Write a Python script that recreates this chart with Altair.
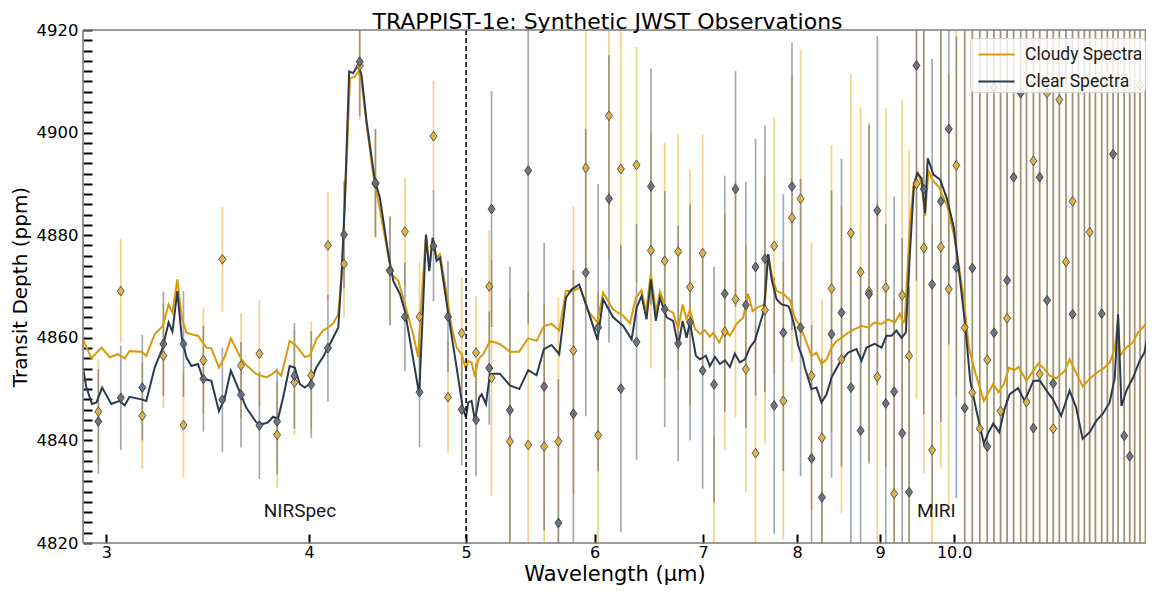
import altair as alt
import pandas as pd

# ---------------- data ----------------
cloudy_wl = [2.902, 2.937, 2.979, 3.015, 3.050, 3.079, 3.100, 3.153, 3.175, 3.213,
             3.250, 3.277, 3.295, 3.318, 3.339, 3.361, 3.393, 3.417, 3.457, 3.482,
             3.520, 3.549, 3.580, 3.608, 3.634, 3.659, 3.712, 3.765, 3.792, 3.819,
             3.846, 3.892, 3.929, 3.976, 4.004, 4.042, 4.081, 4.110, 4.140, 4.170,
             4.190, 4.215, 4.240, 4.270, 4.290, 4.310, 4.341, 4.382, 4.414, 4.456,
             4.498, 4.541, 4.584, 4.638, 4.671, 4.694, 4.723, 4.745, 4.768, 4.795,
             4.818, 4.864, 4.899, 4.933, 4.968, 4.999, 5.015, 5.039, 5.063, 5.087,
             5.123, 5.172, 5.245, 5.321, 5.392, 5.461, 5.526, 5.584, 5.645, 5.707,
             5.761, 5.821, 5.877, 5.947, 6.023, 6.074, 6.161, 6.250, 6.310, 6.363,
             6.415, 6.454, 6.500, 6.546, 6.584, 6.647, 6.709, 6.757, 6.800, 6.838,
             6.871, 6.920, 6.969, 7.018, 7.068, 7.102, 7.163, 7.221, 7.272, 7.341,
             7.410, 7.463, 7.510, 7.569, 7.642, 7.678, 7.716, 7.770, 7.844, 7.919,
             7.975, 8.031, 8.088, 8.165, 8.223, 8.282, 8.342, 8.401, 8.461, 8.521,
             8.602, 8.683, 8.766, 8.849, 8.933, 9.019, 9.104, 9.191, 9.257, 9.301,
             9.322, 9.389, 9.443, 9.501, 9.548, 9.594, 9.640, 9.710, 9.780, 9.900,
             9.995, 10.07, 10.14, 10.21, 10.31, 10.43, 10.50, 10.57, 10.65, 10.73,
             10.81, 10.89, 10.96, 11.08, 11.19, 11.27, 11.37, 11.45, 11.56, 11.70,
             11.78, 11.89, 12.00, 12.12, 12.24, 12.35, 12.47, 12.56, 12.62, 12.65,
             12.77, 12.89, 12.98, 13.07, 13.17]
cloudy_depth = [4859.7, 4856.0, 4858.1, 4856.2, 4856.8, 4856.0, 4857.4, 4857.3, 4856.5, 4860.7,
                4862.3, 4866.5, 4864.9, 4871.4, 4863.9, 4861.0, 4860.6, 4860.4, 4858.1, 4858.0,
                4854.2, 4856.3, 4859.9, 4857.8, 4855.8, 4854.7, 4852.9, 4852.3, 4852.8, 4853.6,
                4852.6, 4859.4, 4858.4, 4856.3, 4856.5, 4859.7, 4861.4, 4862.0, 4862.8, 4864.6,
                4872.4, 4890.5, 4910.6, 4910.9, 4911.9, 4910.0, 4901.5, 4891.8, 4886.6, 4879.5,
                4872.4, 4871.1, 4866.5, 4860.7, 4856.2, 4867.8, 4880.1, 4873.6, 4879.5, 4875.6,
                4876.3, 4868.5, 4862.0, 4858.1, 4856.8, 4853.9, 4855.5, 4855.2, 4852.4, 4855.8,
                4856.8, 4859.4, 4858.8, 4857.3, 4857.3, 4859.9, 4859.4, 4862.3, 4862.7, 4861.4,
                4869.1, 4869.1, 4869.8, 4865.2, 4863.0, 4868.8, 4865.5, 4864.3, 4862.8, 4867.8,
                4869.3, 4864.9, 4872.5, 4864.9, 4869.0, 4865.5, 4864.9, 4861.7, 4866.5, 4863.6,
                4865.5, 4861.7, 4860.8, 4861.5, 4860.2, 4861.0, 4859.1, 4861.5, 4860.4, 4862.7,
                4863.9, 4868.6, 4865.2, 4866.0, 4866.5, 4876.3, 4872.4, 4869.1, 4868.6, 4867.3,
                4863.9, 4862.3, 4860.0, 4856.5, 4857.1, 4854.9, 4855.8, 4858.1, 4859.4, 4860.0,
                4861.0, 4861.7, 4862.3, 4862.0, 4863.0, 4862.7, 4863.6, 4863.0, 4864.7, 4863.0,
                4863.3, 4882.1, 4890.2, 4892.1, 4889.9, 4883.7, 4892.5, 4890.5, 4889.5, 4885.7,
                4880.1, 4873.6, 4867.2, 4858.1, 4852.9, 4847.7, 4849.4, 4851.0, 4849.4, 4851.0,
                4854.2, 4853.7, 4854.3, 4851.6, 4853.6, 4855.0, 4853.9, 4852.6, 4852.1, 4853.6,
                4855.8, 4853.2, 4850.5, 4852.0, 4853.2, 4853.9, 4855.2, 4857.8, 4864.0, 4856.5,
                4858.1, 4859.1, 4861.0, 4862.0, 4863.3]

clear_wl = [2.902, 2.915, 2.939, 2.958, 2.982, 3.021, 3.057, 3.079, 3.100, 3.153,
            3.175, 3.213, 3.250, 3.277, 3.295, 3.318, 3.339, 3.361, 3.385, 3.417,
            3.441, 3.482, 3.520, 3.549, 3.580, 3.608, 3.634, 3.659, 3.712, 3.747,
            3.774, 3.801, 3.828, 3.856, 3.892, 3.920, 3.948, 3.976, 4.004, 4.042,
            4.081, 4.111, 4.170, 4.190, 4.209, 4.235, 4.259, 4.290, 4.310, 4.341,
            4.393, 4.424, 4.477, 4.509, 4.552, 4.584, 4.678, 4.705, 4.723, 4.745,
            4.768, 4.795, 4.818, 4.875, 4.933, 4.976, 4.999, 5.015, 5.039, 5.063,
            5.094, 5.112, 5.143, 5.172, 5.197, 5.245, 5.321, 5.392, 5.461, 5.526,
            5.584, 5.645, 5.707, 5.761, 5.807, 5.871, 5.947, 6.026, 6.074, 6.161,
            6.250, 6.325, 6.370, 6.415, 6.460, 6.500, 6.546, 6.584, 6.647, 6.709,
            6.757, 6.800, 6.838, 6.871, 6.929, 6.969, 7.028, 7.068, 7.119, 7.170,
            7.221, 7.272, 7.323, 7.376, 7.428, 7.481, 7.534, 7.588, 7.631, 7.678,
            7.716, 7.770, 7.826, 7.900, 7.919, 7.975, 8.012, 8.065, 8.088, 8.165,
            8.223, 8.282, 8.342, 8.401, 8.500, 8.602, 8.704, 8.766, 8.828, 8.933,
            9.019, 9.083, 9.148, 9.213, 9.279, 9.335, 9.389, 9.443, 9.487, 9.546,
            9.594, 9.631, 9.710, 9.803, 9.900, 9.995, 10.08, 10.16, 10.23, 10.32,
            10.43, 10.50, 10.57, 10.66, 10.74, 10.82, 10.95, 11.05, 11.19, 11.29,
            11.40, 11.50, 11.64, 11.78, 11.89, 12.00, 12.12, 12.24, 12.35, 12.47,
            12.56, 12.62, 12.68, 12.77, 12.89, 13.01, 13.10, 13.20]
clear_depth = [4854.2, 4850.5, 4847.1, 4847.4, 4850.3, 4847.1, 4847.7, 4846.8, 4848.5, 4848.0,
               4847.7, 4854.2, 4858.1, 4863.0, 4861.2, 4869.1, 4860.0, 4856.2, 4854.5, 4854.9,
               4852.0, 4851.6, 4845.7, 4848.3, 4853.6, 4851.0, 4848.7, 4846.4, 4843.5, 4843.2,
               4843.5, 4844.6, 4844.2, 4848.4, 4854.5, 4854.2, 4851.0, 4850.3, 4851.0, 4854.2,
               4856.3, 4858.1, 4862.0, 4872.4, 4886.6, 4911.9, 4911.6, 4913.2, 4911.2, 4902.2,
               4890.5, 4887.3, 4876.3, 4871.1, 4868.5, 4865.2, 4849.0, 4867.2, 4880.1, 4873.0,
               4879.5, 4875.0, 4875.6, 4864.6, 4854.2, 4846.4, 4844.5, 4847.4, 4847.7, 4843.9,
               4848.4, 4849.0, 4847.1, 4852.9, 4853.0, 4853.0, 4850.7, 4850.0, 4853.7, 4852.7,
               4857.8, 4858.6, 4856.8, 4867.8, 4869.4, 4870.4, 4865.2, 4859.6, 4867.5, 4864.0,
               4862.3, 4859.7, 4865.9, 4868.2, 4863.6, 4871.4, 4863.3, 4867.8, 4864.0, 4863.3,
               4858.4, 4863.3, 4860.0, 4863.0, 4856.5, 4855.8, 4856.5, 4854.5, 4856.3, 4854.9,
               4855.6, 4854.3, 4856.9, 4855.2, 4855.8, 4858.1, 4859.4, 4862.7, 4865.2, 4876.3,
               4871.4, 4867.5, 4866.5, 4866.2, 4865.5, 4862.0, 4858.5, 4856.0, 4854.2, 4850.0,
               4850.3, 4847.4, 4849.0, 4852.3, 4855.2, 4857.1, 4857.8, 4855.5, 4858.1, 4858.8,
               4858.1, 4860.4, 4860.4, 4861.4, 4860.0, 4861.0, 4876.3, 4889.5, 4892.1, 4891.1,
               4884.3, 4895.0, 4891.8, 4890.8, 4887.0, 4881.4, 4871.7, 4862.0, 4851.6, 4845.8,
               4839.4, 4841.6, 4843.3, 4841.6, 4846.1, 4849.0, 4850.2, 4847.7, 4851.6, 4851.7,
               4849.7, 4848.1, 4844.8, 4849.7, 4846.4, 4840.3, 4841.6, 4843.9, 4845.2, 4847.4,
               4852.2, 4864.6, 4846.7, 4849.7, 4852.2, 4855.5, 4857.1, 4862.7]

# NIRSpec synthetic observations
nir_wl = [2.966, 3.062, 3.157, 3.253, 3.347, 3.443, 3.537, 3.632, 3.728, 3.823, 3.918, 4.013,
          4.109, 4.204, 4.299, 4.396, 4.488, 4.584, 4.680, 4.774, 4.873, 4.969, 5.071, 5.167]
nir_cloudy = [4845.6, 4869.1, 4844.8, 4856.5, 4843.0, 4855.6, 4875.3, 4854.6, 4856.9, 4841.1, 4851.3, 4852.7,
              4878.0, 4874.4, 4913.0, 4890.0, 4873.2, 4880.7, 4864.1, 4899.3, 4848.4, 4860.9, 4857.1, 4870.0]
nir_clear = [4843.7, 4848.3, 4850.3, 4858.8, 4858.8, 4852.0, 4847.9, 4848.9, 4842.9, 4843.7, 4852.6, 4850.9,
             4858.0, 4880.1, 4913.8, 4890.2, 4873.0, 4864.1, 4849.4, 4877.9, 4864.1, 4846.0, 4844.0, 4854.1]
nir_err = [10.2, 10.2, 10.3, 10.2, 10.3, 10.3, 10.2, 10.3, 10.4, 10.3, 10.3, 10.4,
           10.4, 10.5, 10.5, 10.5, 10.6, 10.6, 10.7, 10.8, 10.8, 10.9, 11.0, 11.0]

# MIRI synthetic observations (None = point not visible in the plotted range)
miri_wl = [5.184, 5.321, 5.461, 5.586, 5.700, 5.823, 5.926, 6.031, 6.124, 6.229,
           6.369, 6.501, 6.629, 6.757, 6.872, 6.996, 7.110, 7.219, 7.330, 7.439,
           7.542, 7.643, 7.744, 7.845, 7.942, 8.040, 8.166, 8.287, 8.401, 8.521,
           8.635, 8.755, 8.860, 8.966, 9.074, 9.182, 9.287, 9.379, 9.478, 9.577,
           9.691, 9.812, 9.923, 10.03, 10.15, 10.26, 10.37, 10.48, 10.58, 10.68,
           10.78, 10.88, 10.99, 11.08, 11.19, 11.29, 11.41, 11.51, 11.61, 11.72,
           11.83, 11.93, 12.03, 12.12, 12.22, 12.33, 12.43, 12.53, 12.62, 12.73,
           12.83, 12.92, 13.02, 13.12]
miri_cloudy = [4852.2, 4839.8, 4839.1, 4838.8, 4839.8, 4857.5, 4893.1, 4841.0, 4903.3, 4892.9,
               4893.7, 4877.0, 4875.0, 4876.8, 4869.9, 4876.5, 4818.0, 4861.2, 4867.5, 4853.9,
               4837.5, 4865.4, 4877.9, 4847.7, 4883.4, 4887.1, 4852.6, 4840.5, 4869.6, 4855.8,
               4880.4, 4872.8, 4869.0, 4852.4, 4869.8, 4829.6, 4868.3, 4856.5, 4890.0, 4877.5,
               4838.1, 4877.7, 4869.5, 4893.6, 4862.0, 4849.3, 4842.3, 4855.7, 4908.8, 4845.7,
               4863.8, None, None, 4847.5, 4894.5, 4852.9, 4907.7, 4842.3, 4906.4, 4874.8,
               4886.6, None, None, 4880.6, None, None, None, None, None, None,
               None, None, 4909.2, None]
miri_clear = [4885.1, 4845.9, 4892.6, 4850.5, 4823.9, 4845.2, 4872.7, 4862.0, 4887.1, 4850.1,
              4859.2, 4889.5, 4865.6, 4858.9, 4863.0, 4853.6, 4850.9, 4868.6, 4889.0, 4866.4,
              4873.8, 4875.4, 4846.8, 4861.0, 4889.5, 4862.0, 4836.5, 4828.9, 4860.7, 4864.9,
              4850.3, 4841.9, 4868.5, 4884.8, 4847.2, 4849.5, 4841.4, 4829.9, 4913.1, 4889.0,
              4870.4, 4886.6, 4900.7, 4873.7, 4846.3, 4873.6, None, 4838.8, 4861.0, None,
              4871.2, 4891.3, 4907.7, None, 4842.4, 4891.3, 4867.3, 4851.1, None, None,
              4864.6, None, None, None, None, 4864.7, None, 4895.8, None, 4840.9,
              4836.9, None, None, None]
miri_err = [23, 28, 30, 28, 28, 28, 28, 28, 28, 28,
            23, 23, 23, 23, 23, 23, 23, 23, 23, 24,
            25, 26, 25, 27, 28, 29, 26, 27, 28, 30,
            31, 32, 33, 34, 35, 38, 38, 40, 42, 44,
            44, 43, 42, 45, 80, 85, 90, 95, 100, 100,
            105, 105, 110, 110, 115, 115, 120, 120, 125, 125,
            130, 130, 135, 135, 140, 140, 145, 145, 150, 150,
            155, 155, 160, 160]

series_names = ["Cloudy Spectra", "Clear Spectra"]
label_text = ["NIRSpec", "MIRI"]
label_wl = [3.949, 9.75]
label_depth = [4826.3, 4826.2]
divider_wl = [5.0]
title_text = "TRAPPIST-1e: Synthetic JWST Observations"
title_wl = 6.112

x_ticks = [3, 4, 5, 6, 7, 8, 9, 10]
X_DOMAIN = [2.902, 13.13]
Y_DOMAIN = [4820, 4920]
y_ticks = list(range(4820, 4921, 2))

# ---------------- styles ----------------
CLOUDY = "#D99B08"
CLEAR = "#2B3A4F"
GOLD_BAR = "#E8B53A"
GRAY_BAR = "#4A5568"
GOLD_PT = "#E0AE3C"
GRAY_PT = "#646B75"
FONT = "DejaVu Sans"
DIAMOND = "M0,-1L0.72,0L0,1L-0.72,0Z"
LEGEND_LINE = "M-1.34,0H1.34"

# ---------------- tables ----------------
lines_df = pd.concat([
    pd.DataFrame({"wl": cloudy_wl, "depth": cloudy_depth, "series": series_names[0]}),
    pd.DataFrame({"wl": clear_wl, "depth": clear_depth, "series": series_names[1]}),
])


def obs_table(wl, depth, err):
    rows = []
    for w, d, e in zip(wl, depth, err):
        if d is None:
            rows.append({"wl": w, "depth": None, "lo": Y_DOMAIN[0], "hi": Y_DOMAIN[1]})
        else:
            rows.append({"wl": w, "depth": d, "lo": d - e, "hi": d + e})
    return pd.DataFrame(rows)


cloudy_obs = pd.concat([obs_table(nir_wl, nir_cloudy, nir_err),
                        obs_table(miri_wl, miri_cloudy, miri_err)])
clear_obs = pd.concat([obs_table(nir_wl, nir_clear, nir_err),
                       obs_table(miri_wl, miri_clear, miri_err)])


def visible(df):
    d = df.dropna(subset=["depth"])
    return d[(d["depth"] >= Y_DOMAIN[0]) & (d["depth"] <= Y_DOMAIN[1])]


cloudy_pts = visible(cloudy_obs)
clear_pts = visible(clear_obs)

labels_df = pd.DataFrame({"text": label_text, "wl": label_wl, "depth": label_depth})
title_df = pd.DataFrame({"text": [title_text], "wl": [title_wl], "depth": [Y_DOMAIN[1]]})
divider_df = pd.DataFrame({"wl": divider_wl})
hspine_df = pd.DataFrame({"depth": Y_DOMAIN})
vspine_df = pd.DataFrame({"wl": [X_DOMAIN[0]]})

# ---------------- scales & axes ----------------
xscale = alt.Scale(type="log", domain=X_DOMAIN, nice=False)
yscale = alt.Scale(domain=Y_DOMAIN, nice=False, zero=False, clamp=True)

xaxis = alt.Axis(
    values=x_ticks,
    labelExpr="datum.value == 10 ? '10.0' : format(datum.value, 'd')",
    title="Wavelength (μm)", titleFont=FONT, titleFontSize=21, titleFontWeight="normal",
    titleColor="black", titlePadding=3,
    labelFont=FONT, labelFontSize=16, labelColor="black", labelPadding=1,
    labelFlush=False, labelOverlap=False,
    tickSize=9, tickWidth=2, tickColor="black", offset=-9, domain=False, grid=False,
)
yaxis = alt.Axis(
    values=y_ticks,
    labelExpr="datum.value % 20 == 0 ? format(datum.value, 'd') : ''",
    title="Transit Depth (ppm)", titleFont=FONT, titleFontSize=20, titleFontWeight="normal",
    titleColor="black", titlePadding=6,
    labelFont=FONT, labelFontSize=16.5, labelColor="black", labelPadding=5,
    labelFlush=False, labelOverlap=False,
    tickSize=9, tickWidth=2, tickColor="black", offset=-9, domain=False, grid=False,
)


def X(field="wl"):
    return alt.X(f"{field}:Q", scale=xscale, axis=xaxis)


def Y(field="depth"):
    return alt.Y(f"{field}:Q", scale=yscale, axis=yaxis)


# ---------------- layers ----------------
gold_bars = alt.Chart(cloudy_obs).mark_rule(clip=True, color=GOLD_BAR, opacity=0.6, strokeWidth=1.7).encode(
    x=X(), y=Y("lo"), y2="hi")
gray_bars = alt.Chart(clear_obs).mark_rule(clip=True, color=GRAY_BAR, opacity=0.5, strokeWidth=1.7).encode(
    x=X(), y=Y("lo"), y2="hi")

lines = alt.Chart(lines_df).mark_line(clip=True, strokeWidth=2).encode(
    x=X(), y=Y(),
    color=alt.Color("series:N", sort=series_names,
                    scale=alt.Scale(domain=series_names, range=[CLOUDY, CLEAR]),
                    legend=alt.Legend(title=None, orient="none", legendX=887, legendY=8,
                                      symbolType=LEGEND_LINE, symbolSize=729, symbolStrokeWidth=2,
                                      symbolOffset=10, labelOffset=14,
                                      labelFont="Roboto", labelFontSize=17.5, labelColor="#1a1a1a",
                                      rowPadding=4, padding=2,
                                      fillColor="rgba(255,255,255,0.8)", strokeColor="#d5d5d5",
                                      cornerRadius=4)),
    detail="series:N",
)

gold_pts = alt.Chart(cloudy_pts).mark_point(clip=True, shape=DIAMOND, filled=True, size=95,
                                             fill=GOLD_PT, fillOpacity=0.9, stroke="#4a4a4a",
                                             strokeWidth=0.9, opacity=1).encode(x=X(), y=Y())
gray_pts = alt.Chart(clear_pts).mark_point(clip=True, shape=DIAMOND, filled=True, size=95,
                                            fill=GRAY_PT, fillOpacity=0.9, stroke="#3a3a3a",
                                            strokeWidth=0.9, opacity=1).encode(x=X(), y=Y())

divider = alt.Chart(divider_df).mark_rule(color="black", strokeDash=[5, 3], strokeWidth=1.6).encode(x=X())

texts = alt.Chart(labels_df).mark_text(font="Roboto", fontSize=19, color="#1a1a1a").encode(
    x=X(), y=Y(), text="text:N")

title_mark = alt.Chart(title_df).mark_text(font=FONT, fontSize=22, color="black", align="center",
                                           baseline="alphabetic", dy=-1).encode(
    x=X(), y=Y(), text="text:N")

hspines = alt.Chart(hspine_df).mark_rule(color="#808080", strokeWidth=1.6).encode(y=Y())
vspine = alt.Chart(vspine_df).mark_rule(color="#808080", strokeWidth=1.6).encode(x=X())

chart = alt.layer(
    gold_bars, gray_bars, lines, gold_pts, gray_pts, divider, texts, hspines, vspine, title_mark
).properties(
    width=1063, height=513,
    autosize=alt.AutoSizeParams(type="none"),
    padding={"left": 75, "top": 22, "right": 0, "bottom": 43},
).configure_view(stroke=None).configure(background="white")

chart.save("out.html", embed_options={"renderer": "svg", "actions": False})
